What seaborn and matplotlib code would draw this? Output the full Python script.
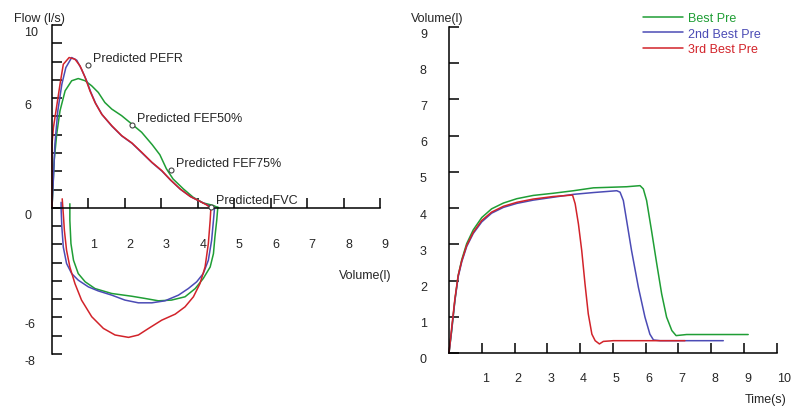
import numpy as np
import pandas as pd
import matplotlib
matplotlib.use("Agg")
import matplotlib.pyplot as plt
import matplotlib.transforms as mtrans
from matplotlib.lines import Line2D
import seaborn as sns

# ---------------- data ----------------
trials = ["Best Pre", "2nd Best Pre", "3rd Best Pre"]
colors = ["#1f9e35", "#4b4bb5", "#d2232a"]

# Flow-volume: expiratory limbs
green_exp_vol = [0, 0.03, 0.06, 0.13, 0.22, 0.36, 0.54, 0.72, 0.91, 1.09, 1.27, 1.45, 1.64, 1.91, 2.19, 2.46, 2.75, 2.96, 3.14, 3.32, 3.60, 3.87, 4.14, 4.42, 4.57]
green_exp_flow = [0, 1.31, 2.58, 4.04, 5.31, 6.40, 6.95, 7.07, 6.95, 6.67, 6.31, 5.76, 5.40, 5.04, 4.58, 4.13, 3.45, 2.90, 2.13, 1.58, 1.04, 0.58, 0.27, 0.13, 0.0]
blue_exp_vol = [0, 0.04, 0.08, 0.16, 0.27, 0.38, 0.54, 0.68, 0.81, 0.95, 1.06, 1.20, 1.38, 1.65, 1.92, 2.20, 2.47, 2.75, 3.02, 3.26, 3.53, 3.81, 4.08, 4.30, 4.43]
blue_exp_flow = [0, 1.67, 3.49, 5.31, 6.76, 7.67, 8.22, 8.07, 7.58, 6.95, 6.35, 5.70, 5.08, 4.45, 3.92, 3.52, 3.00, 2.46, 2.00, 1.50, 1.00, 0.60, 0.33, 0.12, 0.0]
red_exp_vol = [0, 0.0, 0.04, 0.11, 0.22, 0.31, 0.47, 0.63, 0.77, 0.91, 1.04, 1.18, 1.36, 1.64, 1.91, 2.19, 2.46, 2.74, 3.01, 3.24, 3.51, 3.79, 4.06, 4.25, 4.34]
red_exp_flow = [0, 3.49, 4.40, 5.31, 6.76, 7.85, 8.22, 8.13, 7.76, 7.13, 6.40, 5.76, 5.13, 4.49, 3.95, 3.55, 3.04, 2.49, 2.04, 1.55, 1.04, 0.62, 0.35, 0.15, 0.0]

# Flow-volume: inspiratory limbs
green_insp_vol = [0.49, 0.49, 0.52, 0.59, 0.72, 0.91, 1.18, 1.64, 2.19, 2.55, 2.92, 3.28, 3.65, 3.93, 4.15, 4.34, 4.43, 4.47, 4.52, 4.55]
green_insp_flow = [0.22, -0.69, -1.96, -2.87, -3.60, -4.05, -4.42, -4.69, -4.84, -4.96, -5.09, -5.05, -4.87, -4.42, -3.87, -3.24, -2.51, -1.60, -0.69, 0.04]
blue_insp_vol = [0.25, 0.25, 0.27, 0.31, 0.40, 0.54, 0.72, 1.00, 1.27, 1.64, 2.00, 2.37, 2.74, 3.10, 3.47, 3.74, 3.97, 4.15, 4.29, 4.38, 4.43, 4.46]
blue_insp_flow = [0.30, -0.05, -1.05, -2.15, -3.05, -3.60, -3.96, -4.33, -4.55, -4.78, -5.05, -5.20, -5.20, -5.09, -4.78, -4.42, -4.05, -3.60, -2.87, -1.78, -0.69, 0.0]
red_insp_vol = [0.28, 0.31, 0.34, 0.40, 0.49, 0.63, 0.81, 1.09, 1.41, 1.73, 2.10, 2.37, 2.65, 3.01, 3.38, 3.65, 3.88, 4.06, 4.20, 4.29, 4.34, 4.36]
red_insp_flow = [0.49, -0.33, -1.24, -2.33, -3.24, -4.15, -5.05, -5.96, -6.60, -6.96, -7.09, -6.96, -6.60, -6.15, -5.82, -5.42, -4.87, -4.15, -3.24, -1.96, -0.69, 0.0]

# Predicted points
pred_labels = ["Predicted PEFR", "Predicted FEF50%", "Predicted FEF75%", "Predicted FVC"]
pred_vol = [1.0, 2.19, 3.27, 4.36]
pred_flow = [7.8, 4.53, 2.08, 0.04]

# Volume-time curves
green_t = [0, 0.08, 0.18, 0.28, 0.39, 0.54, 0.74, 1.0, 1.3, 1.66, 2.07, 2.57, 3.18, 3.8, 4.41, 5.42, 5.83, 5.93, 6.03, 6.18, 6.34, 6.49, 6.64, 6.80, 6.93, 7.25, 9.13]
green_v = [0, 0.60, 1.45, 2.14, 2.58, 3.02, 3.40, 3.74, 3.98, 4.14, 4.26, 4.35, 4.41, 4.48, 4.56, 4.59, 4.62, 4.53, 4.21, 3.38, 2.46, 1.63, 0.99, 0.62, 0.48, 0.51, 0.51]
blue_t = [0, 0.08, 0.18, 0.28, 0.39, 0.54, 0.74, 1.0, 1.3, 1.66, 2.07, 2.57, 3.18, 3.8, 4.41, 5.12, 5.22, 5.32, 5.42, 5.57, 5.78, 5.98, 6.13, 6.24, 6.44, 8.37]
blue_v = [0, 0.62, 1.45, 2.10, 2.52, 2.94, 3.30, 3.62, 3.86, 4.02, 4.13, 4.22, 4.30, 4.38, 4.43, 4.48, 4.44, 4.21, 3.66, 2.83, 1.81, 0.99, 0.52, 0.36, 0.34, 0.34]
red_t = [0, 0.08, 0.18, 0.28, 0.39, 0.54, 0.74, 1.0, 1.3, 1.66, 2.07, 2.57, 3.18, 3.77, 3.85, 3.95, 4.05, 4.15, 4.25, 4.36, 4.46, 4.59, 4.71, 5.01, 7.2]
red_v = [0, 0.68, 1.50, 2.14, 2.55, 2.97, 3.33, 3.66, 3.89, 4.05, 4.16, 4.25, 4.32, 4.36, 4.12, 3.56, 2.83, 1.91, 1.08, 0.52, 0.34, 0.25, 0.32, 0.34, 0.34]

fv_ticks_x = [1, 2, 3, 4, 5, 6, 7, 8, 9]
fv_ticks_y = list(range(-8, 11))
fv_labels_y = [10, 6, 0, -6, -8]
vt_ticks_x = [1, 2, 3, 4, 5, 6, 7, 8, 9, 10]
vt_ticks_y = [0, 1, 2, 3, 4, 5, 6, 7, 8, 9]

# ---------------- build frames ----------------
def frame(pairs):
    rows = []
    for trial, seg, xs, ys in pairs:
        for i, (x, y) in enumerate(zip(xs, ys)):
            rows.append({"trial": trial, "seg": f"{trial}-{seg}", "order": i, "x": x, "y": y})
    return pd.DataFrame(rows)

fv = frame([
    (trials[0], "exp", green_exp_vol, green_exp_flow),
    (trials[1], "exp", blue_exp_vol, blue_exp_flow),
    (trials[2], "exp", red_exp_vol, red_exp_flow),
    (trials[0], "insp", green_insp_vol, green_insp_flow),
    (trials[1], "insp", blue_insp_vol, blue_insp_flow),
    (trials[2], "insp", red_insp_vol, red_insp_flow),
])
vt = frame([
    (trials[0], "vt", green_t, green_v),
    (trials[1], "vt", blue_t, blue_v),
    (trials[2], "vt", red_t, red_v),
])

# ---------------- figure ----------------
sns.set_style("white")
plt.rcParams["font.family"] = ["Liberation Sans", "DejaVu Sans"]
plt.rcParams["font.size"] = 9

W, H = 792, 410
fig = plt.figure(figsize=(W / 100, H / 100), dpi=100)
palette = dict(zip(trials, colors))

def px_axes(l, r, t, b):
    return fig.add_axes([l / W, (H - b) / H, (r - l) / W, (b - t) / H])

ax1 = px_axes(52, 380, 26, 355)
ax2 = px_axes(449, 776.7, 28, 354)

lw = 1.1
sns.lineplot(data=fv, x="x", y="y", hue="trial", units="seg", estimator=None,
             sort=False, palette=palette, linewidth=lw, legend=False, ax=ax1)
sns.lineplot(data=vt, x="x", y="y", hue="trial", units="seg", estimator=None,
             sort=False, palette=palette, linewidth=lw, legend=False, ax=ax2)

for ax in (ax1, ax2):
    ax.set_facecolor("none")
    ax.set_xlabel("")
    ax.set_ylabel("")
    for s in ("top", "right"):
        ax.spines[s].set_visible(False)
    for s in ("left", "bottom"):
        ax.spines[s].set_color("black")
        ax.spines[s].set_linewidth(1.1)
    ax.tick_params(axis="both", direction="in", length=7.5, width=1.1, color="black",
                   labelleft=False, labelbottom=False, left=True, bottom=True)
    for ln in ax.get_lines():
        ln.set_clip_on(False)

ax1.set_xlim(0, 9)
ax1.set_ylim(-8, 10)
ax1.spines["bottom"].set_position(("data", 0))
ax1.set_xticks(fv_ticks_x)
ax1.set_yticks(fv_ticks_y)

ax2.set_xlim(0, 10)
ax2.set_ylim(0, 9)
ax2.set_xticks(vt_ticks_x)
ax2.set_yticks(vt_ticks_y)

def off(ax, base, dx, dy):
    return base + mtrans.ScaledTranslation(dx / 100, dy / 100, fig.dpi_scale_trans)

# tick label texts
for v in fv_labels_y:
    ax1.text(0, v, str(v), transform=off(ax1, ax1.get_yaxis_transform(), -28, -7),
             ha="left", va="center", fontsize=9)
for v in fv_ticks_x:
    ax1.text(v, 0, str(v), transform=off(ax1, ax1.transData, 1.5, -36),
             ha="left", va="center", fontsize=9)
for v in vt_ticks_y:
    ax2.text(0, v, str(v), transform=off(ax2, ax2.get_yaxis_transform(), -29, -6.5),
             ha="left", va="center", fontsize=9)
for v in vt_ticks_x:
    ax2.text(v, 0, str(v), transform=off(ax2, ax2.transData, 0, -25),
             ha="left", va="center", fontsize=9)

# predicted markers
ax1.plot(pred_vol, pred_flow, linestyle="none", marker="o", ms=3.6, mfc="white",
         mec="#444444", mew=0.8, clip_on=False, zorder=5)
for lab, xv, yv in zip(pred_labels, pred_vol, pred_flow):
    ax1.annotate(lab, (xv, yv), xytext=(3.6, 5.0), textcoords="offset points",
                 ha="left", va="center", fontsize=9, zorder=6)

# axis titles
fig.text(39 / W, 1 - 19 / H, "Flow (l/s)", ha="center", va="center", fontsize=9)
fig.text(365.5 / W, 1 - 276 / H, "Volume(l)", ha="center", va="center", fontsize=9)
fig.text(437.5 / W, 1 - 19 / H, "Volume(l)", ha="center", va="center", fontsize=9)
fig.text(766 / W, 1 - 400 / H, "Time(s)", ha="center", va="center", fontsize=9)

# legend
handles = [Line2D([0], [0], color=c, lw=lw) for c in colors]
leg = fig.legend(handles, trials, loc="upper left", bbox_to_anchor=(643 / W, 1 - 13 / H),
                 frameon=False, borderpad=0, borderaxespad=0, handlelength=3.2,
                 handletextpad=0.4, labelspacing=0.28, fontsize=9)
for t, c in zip(leg.get_texts(), colors):
    t.set_color(c)

fig.savefig("out.png", dpi=100)
